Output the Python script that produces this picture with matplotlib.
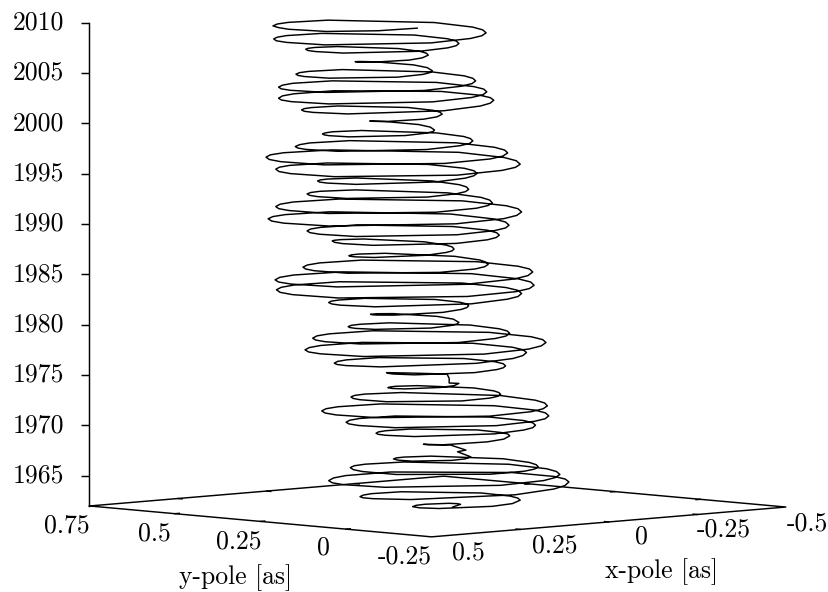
import matplotlib
matplotlib.use('Agg')
import matplotlib.pyplot as plt
from mpl_toolkits.mplot3d import proj3d

# pole path, one row per half turn
x_pole = [
    -.007, -.038,
    -.039, -.026, .032, .069, .102,
    .121, .112, .018, -.047, -.104,
    -.130, -.146, -.146, -.031, .053, .092, .126,
    .160, .181, .181, .031, -.079, -.130, -.174,
    -.213, -.238, -.238, -.065, .062, .120, .171,
    .208, .232, .232, .066, -.056, -.112, -.161,
    -.195, -.216, -.216, -.065, .045, .096, .140,
    .170, .189, .189, .054, -.044, -.090, -.130,
    -.153, -.168, -.168, -.064, .012, .048, .078,
    .098, .098, .042, .002, -.033,
    -.014, -.026, -.004, .035,
    .058, .058, -.004, -.050, -.089,
    -.111, -.124, -.124, -.028, .042, .075, .103,
    .129, .145, .145, .030, -.053, -.093, -.126,
    -.157, -.176, -.176, -.040, .060, .106, .146,
    .179, .199, .199, .054, -.053, -.103, -.145,
    -.182, -.205, -.205, -.042, .078, .133, .181,
    .217, .240, .240, .078, -.040, -.096, -.143,
    -.175, -.195, -.195, -.054, .050, .098, .139,
    .163, .179, .179, .071, -.008, -.044, -.076,
    -.094, -.106, -.106, -.025, .035, .062, .086,
    .105, .105, .054, .016, -.016,
    -.002, -.002, .001, .054, .088,
    .107, .120, .120, .034, -.029, -.058, -.083,
    -.111, -.128, -.128, -.005, .085, .127, .163,
    .194, .214, .214, .076, -.026, -.073, -.113,
    -.149, -.171, -.171, -.012, .104, .158, .205,
    .244, .268, .268, .095, -.031, -.090, -.141,
    -.179, -.202, -.202, -.035, .088, .145, .194,
    .226, .246, .246, .105, .001, -.047, -.089,
    -.115, -.131, -.131, -.015, .069, .109, .143,
    .161, .172, .172, .092, .035, .007, -.016,
    -.039, -.039, .024, .071, .111,
    .127, .137, .137, .067, .015, -.009, -.030,
    -.053, -.067, -.067, .034, .107, .142, .171,
    .202, .222, .222, .084, -.018, -.065, -.106,
    -.146, -.170, -.170, .006, .134, .194, .246,
    .288, .314, .314, .129, -.007, -.070, -.124,
    -.166, -.192, -.192, -.006, .130, .194, .248,
    .290, .316, .316, .131, -.005, -.068, -.122,
    -.159, -.182, -.182, -.017, .103, .160, .208,
    .238, .257, .257, .124, .026, -.019, -.058,
    -.080, -.095, -.095, .005, .079, .113, .142,
    .159, .170, .170, .095, .039, .013, -.009,
    -.029, -.041, -.041, .046, .110, .141, .166,
    .193, .210, .210, .090, .002, -.039, -.074,
    -.105, -.125, -.125, .013, .115, .162, .202,
    .235, .255, .255, .110, .004, -.046, -.088,
    -.127, -.151, -.151, .022, .148, .207, .258,
    .299, .325, .325, .143, .009, -.053, -.106,
    -.146, -.171, -.171, .006, .135, .196, .247,
    .282, .304, .304, .149, .035, -.019, -.064,
    -.094, -.113, -.113, .020, .118, .163, .202,
    .228, .244, .244, .128, .044, .004, -.030,
    -.055, -.070, -.070, .039, .119, .155, .187,
    .213, .229, .229, .115, .031, -.009, -.042,
    -.075, -.095, -.095, .050, .156, .205, .247,
    .287, .312, .312, .136, .008, -.053, -.104,
    -.145, -.171, -.171, .012, .146, .208, .261,
    .300, .325, .325, .152, .024, -.035, -.086,
    -.120, -.142, -.142, .011, .123, .174, .219,
    .248, .266, .266, .139, .045, .001, -.036,
    -.060, -.076, -.076, .032, .112, .148, .180,
    .198, .210, .210, .129, .071, .042, .019,
    .002, .002, .049, .083, .112,
    .131, .131, .079, .041, .008,
    -.015, -.029, -.029, .072, .146, .180, .210,
    .241, .261, .261, .123, .021, -.026, -.066,
    -.101, -.122, -.122, .032, .145, .198, .243,
    .277, .298, .298, .149, .039, -.012, -.056,
    -.090, -.111, -.111, .039, .149, .199, .243,
    .275, .295, .295, .154, .050, .001, -.040,
    -.069, -.087, -.087, .042, .136, .180, .218,
    .240, .254, .254, .156, .084, .051, .022,
    .002, .002, .057, .098, .133,
    .153, .153, .100, .062, .028,
    .008, -.004, -.004, .084, .148, .178, .204,
    .229, .244, .244, .134, .054, .016, -.016,
    -.046, -.065, -.065, .068, .166, .211, .250,
    .285, .306, .306, .154, .042, -.010, -.055,
    -.089, -.111, -.111, .042, .154, .206, .251,
    .281, .302, .302, .247, .181,
]
y_pole = [
    .193, .202,
    .212, .224, .233, .221, .197,
    .157, .110, .051, .060, .096,
    .130, .169, .253, .368, .368, .352, .326,
    .282, .231, .121, -.029, -.029, -.008, .026,
    .077, .135, .261, .434, .434, .410, .371,
    .322, .266, .144, -.022, -.022, .002, .039,
    .084, .134, .245, .396, .395, .374, .340,
    .300, .254, .155, .020, .021, .040, .070,
    .100, .136, .212, .316, .316, .301, .278,
    .243, .202, .146, .147, .167,
    .186, .174, .196, .235,
    .196, .151, .089, .088, .111,
    .139, .172, .242, .338, .338, .325, .303,
    .270, .231, .147, .032, .033, .048, .074,
    .114, .160, .260, .396, .396, .377, .346,
    .304, .254, .147, .002, .002, .022, .055,
    .103, .158, .277, .440, .441, .418, .381,
    .334, .278, .159, -.003, -.002, .021, .057,
    .098, .146, .249, .390, .391, .371, .339,
    .308, .272, .193, .085, .085, .100, .124,
    .148, .175, .234, .315, .316, .304, .286,
    .254, .217, .166, .165, .184,
    .198, .198, .201, .254, .288,
    .262, .235, .172, .086, .086, .098, .117,
    .153, .195, .285, .408, .408, .391, .363,
    .323, .276, .175, .037, .036, .056, .087,
    .134, .188, .304, .463, .463, .441, .405,
    .354, .295, .168, -.005, -.004, .020, .059,
    .108, .165, .288, .455, .455, .432, .394,
    .352, .304, .201, .060, .060, .079, .111,
    .145, .185, .270, .386, .385, .369, .343,
    .320, .292, .234, .154, .155, .166, .184,
    .224, .271, .334, .334, .311,
    .290, .266, .215, .145, .144, .154, .170,
    .199, .234, .307, .408, .408, .394, .371,
    .330, .284, .182, .044, .044, .062, .094,
    .146, .206, .335, .511, .510, .486, .446,
    .392, .329, .194, .009, .008, .034, .076,
    .130, .194, .330, .516, .516, .490, .448,
    .394, .331, .196, .011, .010, .036, .078,
    .126, .183, .304, .469, .468, .445, .408,
    .369, .324, .227, .094, .093, .112, .142,
    .171, .205, .278, .378, .379, .364, .342,
    .320, .295, .239, .164, .164, .174, .191,
    .217, .247, .311, .398, .398, .386, .366,
    .331, .290, .202, .082, .082, .099, .126,
    .166, .213, .314, .452, .453, .433, .402,
    .360, .310, .204, .059, .059, .079, .112,
    .163, .222, .349, .522, .521, .497, .458,
    .405, .343, .210, .028, .027, .053, .094,
    .146, .206, .335, .512, .512, .487, .447,
    .402, .349, .235, .080, .080, .102, .136,
    .175, .220, .317, .450, .451, .432, .402,
    .368, .328, .243, .127, .128, .144, .170,
    .202, .239, .318, .427, .428, .412, .387,
    .354, .315, .231, .117, .117, .133, .158,
    .201, .250, .355, .500, .501, .480, .447,
    .396, .337, .208, .032, .033, .057, .096,
    .150, .212, .345, .528, .529, .503, .461,
    .411, .352, .225, .052, .051, .075, .114,
    .158, .211, .322, .475, .476, .453, .419,
    .381, .339, .245, .118, .118, .135, .164,
    .196, .232, .311, .419, .420, .404, .380,
    .356, .330, .271, .190, .191, .200, .219,
    .249, .283, .330, .330, .312,
    .279, .241, .189, .189, .208,
    .238, .272, .346, .447, .447, .433, .410,
    .370, .323, .222, .084, .083, .103, .134,
    .180, .232, .346, .500, .500, .478, .443,
    .400, .349, .239, .090, .090, .110, .144,
    .188, .239, .348, .498, .499, .477, .443,
    .402, .354, .250, .109, .109, .128, .160,
    .198, .242, .336, .465, .465, .447, .418,
    .389, .356, .284, .186, .186, .200, .222,
    .258, .298, .353, .354, .333,
    .301, .262, .209, .210, .228,
    .254, .284, .348, .436, .436, .424, .404,
    .372, .334, .253, .143, .144, .159, .184,
    .223, .268, .365, .498, .499, .480, .450,
    .406, .354, .242, .090, .090, .111, .145,
    .190, .242, .354, .507, .507, .485, .451,
    .403, .352, .242, .147, .102,
]
year = [
    1962.10, 1962.25,
    1962.28, 1962.32, 1962.37, 1962.41, 1962.45,
    1962.51, 1962.56, 1962.68, 1962.73, 1962.79,
    1962.82, 1962.85, 1962.90, 1963.01, 1963.07, 1963.09, 1963.12,
    1963.24, 1963.37, 1963.62, 1964.11, 1964.36, 1964.49, 1964.61,
    1964.62, 1964.63, 1964.64, 1964.67, 1964.69, 1964.695, 1964.70,
    1964.75, 1964.81, 1964.92, 1965.13, 1965.24, 1965.30, 1965.35,
    1965.40, 1965.46, 1965.57, 1965.78, 1965.89, 1965.95, 1966.00,
    1966.01, 1966.02, 1966.03, 1966.07, 1966.08, 1966.09, 1966.10,
    1966.16, 1966.23, 1966.36, 1966.61, 1966.74, 1966.81, 1966.87,
    1966.91, 1966.94, 1967.02, 1967.05, 1967.09,
    1967.59, 1967.76, 1968.26, 1968.33,
    1968.47, 1968.61, 1968.90, 1969.04, 1969.18,
    1969.20, 1969.22, 1969.26, 1969.34, 1969.38, 1969.40, 1969.42,
    1969.49, 1969.56, 1969.69, 1969.97, 1970.10, 1970.17, 1970.24,
    1970.26, 1970.29, 1970.33, 1970.42, 1970.47, 1970.49, 1970.51,
    1970.57, 1970.62, 1970.73, 1970.95, 1971.06, 1971.11, 1971.17,
    1971.21, 1971.25, 1971.32, 1971.48, 1971.55, 1971.59, 1971.63,
    1971.67, 1971.72, 1971.81, 1971.98, 1972.07, 1972.12, 1972.16,
    1972.23, 1972.30, 1972.45, 1972.73, 1972.88, 1972.95, 1973.02,
    1973.04, 1973.07, 1973.11, 1973.20, 1973.25, 1973.27, 1973.29,
    1973.35, 1973.40, 1973.51, 1973.73, 1973.84, 1973.89, 1973.95,
    1974.02, 1974.09, 1974.24, 1974.31, 1974.38,
    1974.42, 1974.88, 1975.31, 1975.40, 1975.44,
    1975.50, 1975.56, 1975.67, 1975.90, 1976.02, 1976.07, 1976.13,
    1976.15, 1976.17, 1976.21, 1976.29, 1976.33, 1976.35, 1976.37,
    1976.46, 1976.55, 1976.73, 1977.10, 1977.28, 1977.37, 1977.46,
    1977.48, 1977.50, 1977.54, 1977.61, 1977.65, 1977.67, 1977.69,
    1977.75, 1977.82, 1977.94, 1978.20, 1978.32, 1978.39, 1978.45,
    1978.48, 1978.52, 1978.58, 1978.72, 1978.78, 1978.82, 1978.85,
    1978.89, 1978.93, 1979.02, 1979.18, 1979.27, 1979.31, 1979.35,
    1979.41, 1979.46, 1979.57, 1979.78, 1979.89, 1979.95, 1980.00,
    1980.04, 1980.07, 1980.15, 1980.29, 1980.37, 1980.40, 1980.44,
    1980.57, 1980.70, 1980.97, 1981.10, 1981.23,
    1981.30, 1981.37, 1981.52, 1981.80, 1981.95, 1982.02, 1982.09,
    1982.11, 1982.14, 1982.19, 1982.29, 1982.34, 1982.37, 1982.39,
    1982.47, 1982.55, 1982.70, 1983.01, 1983.17, 1983.24, 1983.32,
    1983.35, 1983.38, 1983.43, 1983.54, 1983.60, 1983.62, 1983.65,
    1983.69, 1983.73, 1983.81, 1983.98, 1984.06, 1984.10, 1984.14,
    1984.18, 1984.22, 1984.31, 1984.47, 1984.56, 1984.60, 1984.64,
    1984.71, 1984.78, 1984.91, 1985.19, 1985.32, 1985.39, 1985.46,
    1985.50, 1985.53, 1985.61, 1985.75, 1985.83, 1985.86, 1985.90,
    1985.93, 1985.95, 1986.00, 1986.10, 1986.15, 1986.18, 1986.20,
    1986.27, 1986.34, 1986.48, 1986.77, 1986.91, 1986.98, 1987.05,
    1987.11, 1987.16, 1987.27, 1987.50, 1987.61, 1987.66, 1987.72,
    1987.79, 1987.85, 1987.98, 1988.25, 1988.38, 1988.44, 1988.51,
    1988.56, 1988.61, 1988.71, 1988.91, 1989.01, 1989.06, 1989.11,
    1989.14, 1989.18, 1989.24, 1989.38, 1989.44, 1989.48, 1989.51,
    1989.56, 1989.61, 1989.71, 1989.90, 1990.00, 1990.05, 1990.10,
    1990.15, 1990.20, 1990.30, 1990.50, 1990.60, 1990.65, 1990.70,
    1990.76, 1990.82, 1990.94, 1991.18, 1991.30, 1991.36, 1991.42,
    1991.46, 1991.50, 1991.59, 1991.75, 1991.84, 1991.88, 1991.92,
    1991.95, 1991.99, 1992.05, 1992.19, 1992.25, 1992.29, 1992.32,
    1992.39, 1992.46, 1992.61, 1992.89, 1993.04, 1993.11, 1993.18,
    1993.22, 1993.26, 1993.34, 1993.49, 1993.57, 1993.61, 1993.65,
    1993.72, 1993.79, 1993.92, 1994.20, 1994.33, 1994.40, 1994.47,
    1994.53, 1994.60, 1994.73, 1994.98, 1995.11, 1995.18, 1995.24,
    1995.27, 1995.31, 1995.37, 1995.50, 1995.57, 1995.60, 1995.63,
    1995.67, 1995.72, 1995.81, 1995.98, 1996.07, 1996.12, 1996.16,
    1996.22, 1996.27, 1996.38, 1996.60, 1996.71, 1996.77, 1996.82,
    1996.86, 1996.90, 1996.97, 1997.13, 1997.20, 1997.24, 1997.28,
    1997.33, 1997.38, 1997.48, 1997.68, 1997.78, 1997.83, 1997.88,
    1997.93, 1997.98, 1998.08, 1998.27, 1998.37, 1998.42, 1998.47,
    1998.53, 1998.58, 1998.69, 1998.92, 1999.03, 1999.08, 1999.14,
    1999.17, 1999.21, 1999.27, 1999.41, 1999.47, 1999.51, 1999.54,
    1999.69, 1999.84, 2000.13, 2000.28, 2000.43,
    2000.55, 2000.66, 2000.89, 2001.01, 2001.12,
    2001.15, 2001.19, 2001.25, 2001.39, 2001.45, 2001.49, 2001.52,
    2001.60, 2001.69, 2001.85, 2002.18, 2002.35, 2002.43, 2002.51,
    2002.52, 2002.54, 2002.57, 2002.62, 2002.65, 2002.67, 2002.68,
    2002.74, 2002.79, 2002.90, 2003.12, 2003.23, 2003.28, 2003.34,
    2003.38, 2003.41, 2003.49, 2003.63, 2003.71, 2003.74, 2003.78,
    2003.83, 2003.89, 2004.00, 2004.21, 2004.32, 2004.38, 2004.43,
    2004.48, 2004.54, 2004.64, 2004.86, 2004.96, 2005.02, 2005.07,
    2005.10, 2005.13, 2005.19, 2005.30, 2005.36, 2005.39, 2005.42,
    2005.57, 2005.72, 2006.02, 2006.17, 2006.32,
    2006.43, 2006.54, 2006.76, 2006.87, 2006.98,
    2007.03, 2007.08, 2007.17, 2007.36, 2007.46, 2007.50, 2007.55,
    2007.60, 2007.65, 2007.75, 2007.94, 2008.04, 2008.09, 2008.14,
    2008.18, 2008.21, 2008.28, 2008.43, 2008.50, 2008.53, 2008.57,
    2008.62, 2008.68, 2008.78, 2008.99, 2009.10, 2009.15, 2009.20,
    2009.26, 2009.31, 2009.42, 2009.64, 2009.75, 2009.81, 2009.86,
    2009.92, 2009.98, 2010.10, 2010.30, 2010.50,
]

x_ticks = [0.5, 0.25, 0, -0.25, -0.5]
x_labels = ['0.5', '0.25', '0', '-0.25', '-0.5']
y_ticks = [0.75, 0.5, 0.25, 0, -0.25]
y_labels = ['0.75', '0.5', '0.25', '0', '-0.25']
z_ticks = [1965, 1970, 1975, 1980, 1985, 1990, 1995, 2000, 2005, 2010]

FONT = 'cmr10'
W, H = 829, 592
side = 824
left, bottom = 14.5, -96
# my readings of the path came out about 7 px to the right
shift = 0.01

fig = plt.figure(figsize=(W / 100, H / 100), dpi=100)
ax = fig.add_axes([left / W, bottom / H, side / W, side / H], projection='3d')
ax.set_proj_type('ortho')
ax.view_init(elev=5, azim=46)
ax.set_box_aspect((1, 1, 0.985))
ax.set_xlim(-0.5, 0.5)
ax.set_ylim(0.75, -0.25)
ax.set_zlim(1962, 2010)
ax.set_axis_off()

lw = 1.05
# base of the box and the time axis
xa, xb = 0.5, -0.5
ya, yb = 0.75, -0.25
ax.plot([xa, xa, xb, xb, xa], [ya, yb, yb, ya, ya], [1962] * 5, color='k', lw=lw)
ax.plot([xa, xa], [ya, ya], [1962, 2010], color='k', lw=lw)

# short ticks on the base, gnuplot puts them on both sides
for t in x_ticks[1:-1]:
    ax.plot([t, t], [yb, yb + 0.012], [1962, 1962], color='k', lw=lw)
    ax.plot([t, t], [ya, ya - 0.012], [1962, 1962], color='k', lw=lw)
for t in y_ticks[1:-1]:
    ax.plot([xa, xa - 0.012], [t, t], [1962, 1962], color='k', lw=lw)
    ax.plot([xb, xb + 0.012], [t, t], [1962, 1962], color='k', lw=lw)
ax.plot([xa] * len(z_ticks), [ya] * len(z_ticks), z_ticks, ls='none', marker=0,
        ms=5.8, mew=lw, color='k')

ax.plot([v + shift for v in x_pole], [v + shift for v in y_pole], year, color='k', lw=lw)


def label(x, y, z, text, dx, dy, ha='center'):
    px, py, _ = proj3d.proj_transform(x, y, z, ax.get_proj())
    ax.annotate(text, (px, py), xytext=(dx, dy), textcoords='offset pixels',
                ha=ha, va='center', family=FONT, fontsize=18.5, annotation_clip=False)


for t in z_ticks:
    label(xa, ya, t, str(t), -25, 0, ha='right')
for t, s, dx, dy in zip(y_ticks, y_labels, [-23, -21, -22, -22.5, -27], [-20, -20, -20.5, -19, -20]):
    label(xa, t, 1962, s, dx, dy)
for t, s, dx, dy in zip(x_ticks, x_labels, [37, 34.5, 33, 26.5, 22], [-16, -16.5, -15, -15.5, -17]):
    label(t, yb, 1962, s, dx, dy)
label(xa, 0.25, 1962, 'y-pole [as]', -24.5, -56)
label(0, yb, 1962, 'x-pole [as]', 53, -50)

fig.savefig('out.png', dpi=100)
